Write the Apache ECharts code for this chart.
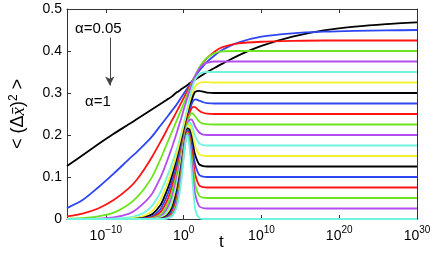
<!DOCTYPE html>
<html><head><meta charset="utf-8">
<script src="https://cdn.jsdelivr.net/npm/echarts@6/dist/echarts.min.js"></script>
<style>html,body{margin:0;padding:0;background:#fff}#c{width:436px;height:262px}</style>
</head><body><div id="c"></div>
<script>
// log10(t) grid
const logT = [-15,-13,-11,-9,-7,-6,-5,-4,-3,-2.5,-2,-1.5,-1,-0.75,-0.5,-0.25,0,0.25,0.5,0.75,1,1.25,1.5,2,2.5,3,4,5,7,10,14,18,22,26,30];
const alphas = [0.05,0.1,0.15,0.2,0.25,0.3,0.35,0.4,0.45,0.5,0.55,0.6,0.65,0.7,0.75,0.8,0.85,0.9,0.95,1];
const a005 = [0.126,0.152,0.178,0.203,0.226,0.238,0.25,0.262,0.274,0.28,0.286,0.292,0.3,0.303,0.306,0.31,0.313,0.316,0.319,0.323,0.326,0.329,0.332,0.338,0.344,0.35,0.36,0.37,0.389,0.412,0.434,0.449,0.458,0.464,0.468];
const a010 = [0.026,0.045,0.075,0.108,0.143,0.16,0.178,0.198,0.222,0.234,0.246,0.258,0.27,0.277,0.284,0.291,0.298,0.305,0.312,0.319,0.326,0.333,0.34,0.353,0.364,0.374,0.39,0.403,0.42,0.434,0.442,0.446,0.448,0.449,0.45];
const a015 = [0.006,0.013,0.025,0.045,0.074,0.094,0.12,0.15,0.183,0.2,0.218,0.235,0.252,0.261,0.27,0.279,0.288,0.297,0.306,0.315,0.324,0.333,0.342,0.358,0.372,0.383,0.399,0.409,0.418,0.422,0.424,0.425,0.425,0.425,0.425];
const a020 = [0.001,0.002,0.006,0.015,0.036,0.052,0.074,0.102,0.142,0.164,0.186,0.208,0.23,0.241,0.252,0.263,0.274,0.286,0.298,0.31,0.321,0.332,0.342,0.36,0.374,0.384,0.395,0.399,0.4,0.4,0.4,0.4,0.4,0.4,0.4];
const a025 = [0,0,0.001,0.004,0.013,0.024,0.04,0.062,0.098,0.12,0.145,0.171,0.199,0.214,0.229,0.244,0.26,0.275,0.29,0.305,0.318,0.33,0.341,0.358,0.368,0.372,0.375,0.375,0.375,0.375,0.375,0.375,0.375,0.375,0.375];
const a030 = [0,0,0,0.001,0.004,0.008,0.016,0.033,0.063,0.084,0.107,0.132,0.159,0.174,0.19,0.208,0.226,0.245,0.265,0.285,0.305,0.322,0.333,0.345,0.349,0.35,0.35,0.35,0.35,0.35,0.35,0.35,0.35,0.35,0.35];
const a035 = [0,0,0,0,0.001,0.003,0.008,0.02,0.046,0.066,0.09,0.118,0.148,0.165,0.182,0.2,0.218,0.236,0.254,0.272,0.29,0.306,0.316,0.324,0.326,0.326,0.325,0.325,0.325,0.325,0.325,0.325,0.325,0.325,0.325];
const a040 = [0,0,0,0,0,0.001,0.004,0.012,0.033,0.052,0.075,0.102,0.132,0.149,0.167,0.186,0.205,0.224,0.243,0.262,0.28,0.295,0.303,0.305,0.303,0.301,0.3,0.3,0.3,0.3,0.3,0.3,0.3,0.3,0.3];
const a045 = [0,0,0,0,0,0,0.002,0.007,0.023,0.04,0.062,0.09,0.122,0.14,0.158,0.177,0.197,0.217,0.237,0.256,0.272,0.282,0.285,0.282,0.278,0.276,0.275,0.275,0.275,0.275,0.275,0.275,0.275,0.275,0.275];
const a050 = [0,0,0,0,0,0,0.001,0.004,0.016,0.03,0.049,0.077,0.11,0.129,0.149,0.17,0.192,0.214,0.235,0.252,0.263,0.267,0.266,0.258,0.253,0.251,0.25,0.25,0.25,0.25,0.25,0.25,0.25,0.25,0.25];
const a055 = [0,0,0,0,0,0,0,0.002,0.01,0.021,0.038,0.064,0.098,0.118,0.14,0.163,0.187,0.21,0.23,0.245,0.252,0.25,0.244,0.232,0.227,0.226,0.225,0.225,0.225,0.225,0.225,0.225,0.225,0.225,0.225];
const a060 = [0,0,0,0,0,0,0,0.001,0.006,0.014,0.029,0.052,0.087,0.108,0.131,0.156,0.182,0.205,0.224,0.236,0.237,0.23,0.219,0.206,0.201,0.2,0.2,0.2,0.2,0.2,0.2,0.2,0.2,0.2,0.2];
const a065 = [0,0,0,0,0,0,0,0,0.004,0.009,0.021,0.042,0.076,0.098,0.122,0.149,0.177,0.202,0.222,0.23,0.225,0.211,0.196,0.18,0.176,0.175,0.175,0.175,0.175,0.175,0.175,0.175,0.175,0.175,0.175];
const a070 = [0,0,0,0,0,0,0,0,0.002,0.006,0.015,0.033,0.066,0.088,0.113,0.142,0.172,0.199,0.219,0.224,0.212,0.192,0.172,0.154,0.151,0.15,0.15,0.15,0.15,0.15,0.15,0.15,0.15,0.15,0.15];
const a075 = [0,0,0,0,0,0,0,0,0.001,0.004,0.011,0.026,0.057,0.079,0.105,0.136,0.168,0.199,0.216,0.213,0.196,0.172,0.151,0.13,0.126,0.125,0.125,0.125,0.125,0.125,0.125,0.125,0.125,0.125,0.125];
const a080 = [0,0,0,0,0,0,0,0,0,0.002,0.008,0.02,0.048,0.07,0.097,0.13,0.164,0.196,0.212,0.205,0.182,0.153,0.128,0.105,0.101,0.1,0.1,0.1,0.1,0.1,0.1,0.1,0.1,0.1,0.1];
const a085 = [0,0,0,0,0,0,0,0,0,0.001,0.005,0.015,0.04,0.061,0.089,0.123,0.16,0.193,0.208,0.197,0.168,0.133,0.105,0.08,0.076,0.075,0.075,0.075,0.075,0.075,0.075,0.075,0.075,0.075,0.075];
const a090 = [0,0,0,0,0,0,0,0,0,0,0.003,0.011,0.033,0.053,0.081,0.116,0.155,0.19,0.205,0.19,0.153,0.112,0.081,0.055,0.051,0.05,0.05,0.05,0.05,0.05,0.05,0.05,0.05,0.05,0.05];
const a095 = [0,0,0,0,0,0,0,0,0,0,0.002,0.008,0.027,0.046,0.073,0.109,0.15,0.187,0.202,0.182,0.138,0.09,0.057,0.03,0.026,0.025,0.025,0.025,0.025,0.025,0.025,0.025,0.025,0.025,0.025];
const a100 = [0,0,0,0,0,0,0,0,0,0,0.002,0.006,0.022,0.038,0.064,0.101,0.145,0.185,0.2,0.172,0.12,0.065,0.022,0.002,0,0,0,0,0,0,0,0,0,0,0];
const curves = [a005,a010,a015,a020,a025,a030,a035,a040,a045,a050,a055,a060,a065,a070,a075,a080,a085,a090,a095,a100];
const xTicks = [-10,0,10,20,30];
const palette = ['#000000','#2d46f0','#ff1414','#6be61e','#b44df0','#6ef5e0','#f2f22e'];

const FONT = 'Liberation Sans, Arial, sans-serif';
const chart = echarts.init(document.getElementById('c'), null, {renderer:'canvas'});
const series = curves.map((vals, k) => ({
  type: 'line',
  name: 'α=' + alphas[k],
  data: logT.map((L, i) => [L, vals[i]]),
  showSymbol: false,
  smooth: 0.25,
  lineStyle: { color: palette[k % 7], width: 1.8 },
  z: 2 + k,
  silent: true
}));
series[0].markLine = {
  silent: true, symbol: ['none','arrow'], symbolSize: [7,9],
  label: {show:false},
  lineStyle: { color: '#444', width: 1, type: 'solid' },
  data: [[{coord:[-9.5,0.432]},{coord:[-9.5,0.318]}]]
};
const supMap = {'-':'−','0':'0','1':'1','2':'2','3':'3','4':'4','5':'5','6':'6','7':'7','8':'8','9':'9'};
chart.setOption({
  animation: false,
  grid: { left: 59, right: 19, top: 9, bottom: 43, show: false },
  xAxis: [{
    type: 'value', min: -15, max: 30, position: 'bottom',
    axisLine: { show: true, onZero: false, lineStyle: { color: '#333', width: 1 } },
    axisTick: { show: true, inside: true, length: 4, customValues: xTicks, lineStyle: {color:'#333'} },
    splitLine: { show: false },
    axisLabel: {
      customValues: xTicks, margin: 6,
      formatter: v => '{b|10}{s|' + String(v).split('').map(c => supMap[c]).join('') + '}',
      rich: {
        b: { fontSize: 14, fontFamily: FONT, color: '#000', verticalAlign: 'bottom' },
        s: { fontSize: 10, fontFamily: FONT, color: '#000', verticalAlign: 'top', padding: [0,0,8,0] }
      }
    }
  }, {
    type: 'value', min: -15, max: 30, position: 'top',
    axisLine: { show: true, onZero: false, lineStyle: { color: '#333', width: 1 } },
    axisTick: { show: true, inside: true, length: 4, customValues: xTicks, lineStyle: {color:'#333'} },
    axisLabel: { show: false }, splitLine: { show: false }
  }],
  yAxis: [{
    type: 'value', min: 0, max: 0.5, interval: 0.1, position: 'left',
    axisLine: { show: true, onZero: false, lineStyle: { color: '#333', width: 1 } },
    axisTick: { show: true, inside: true, length: 4, lineStyle: {color:'#333'} },
    splitLine: { show: false },
    axisLabel: { fontSize: 14, fontFamily: FONT, color: '#000', margin: 5,
      formatter: v => (Math.round(v*10)/10).toString() },
    name: '{n|< (Δ}{i|x̄}{n|)}{p|2}{n| >}',
    nameLocation: 'middle', nameGap: 38, nameRotate: 90,
    nameTextStyle: {
      rich: {
        n: { fontSize: 18, fontFamily: FONT, color: '#000' },
        i: { fontSize: 19, fontFamily: 'Liberation Serif, serif', fontStyle: 'italic', color: '#000' },
        p: { fontSize: 12, fontFamily: FONT, color: '#000', verticalAlign: 'top', padding: [0,0,9,0] }
      }
    }
  }, {
    type: 'value', min: 0, max: 0.5, interval: 0.1, position: 'right',
    axisLine: { show: true, onZero: false, lineStyle: { color: '#333', width: 1 } },
    axisTick: { show: true, inside: true, length: 4, lineStyle: {color:'#333'} },
    axisLabel: { show: false }, splitLine: { show: false }
  }],
  graphic: [
    { type: 'text', left: 75, top: 21, style: { text: 'α=0.05', font: '15px Liberation Sans, Arial, sans-serif', fill: '#000' } },
    { type: 'text', left: 85, top: 94, style: { text: 'α=1', font: '15px Liberation Sans, Arial, sans-serif', fill: '#000' } },
    { type: 'text', left: 219, top: 234, style: { text: 't', font: '17px Liberation Sans, Arial, sans-serif', fill: '#000' } }
  ],
  series: series
});
</script></body></html>
